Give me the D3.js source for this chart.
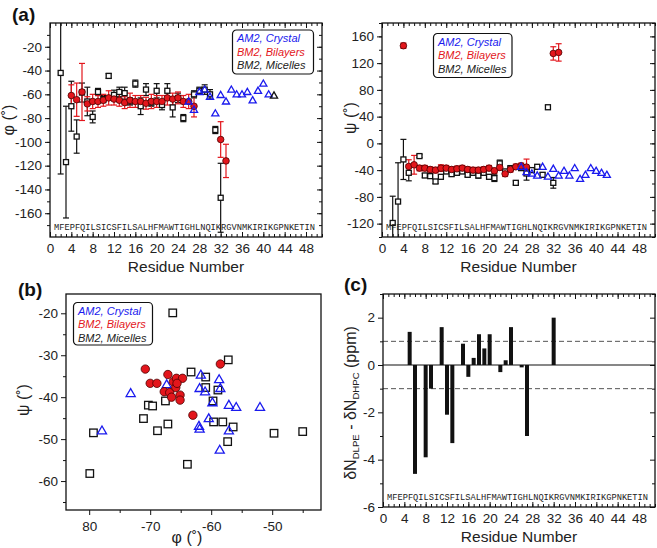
<!DOCTYPE html>
<html><head><meta charset="utf-8">
<script src="https://cdn.jsdelivr.net/npm/d3@7"></script>
<style>
body{margin:0;background:#fff;}
svg{font-family:"Liberation Sans",Arial,Helvetica,sans-serif;}
</style></head><body>
<svg id="chart" width="657" height="548"></svg>
<script>
// ---------------- data ----------------
const sequence = "MFEPFQILSICSFILSALHFMAWTIGHLNQIKRGVNMKIRIKGPNKETIN";
const legendLabels = ["AM2, Crystal", "BM2, Bilayers", "BM2, Micelles"];
const residueTicks = [0,4,8,12,16,20,24,28,32,36,40,44,48];
const phiTicks = [-20,-40,-60,-80,-100,-120,-140,-160];
const psiTicks = [160,120,80,40,0,-40,-80,-120];

// (a) phi, micelles
const phiMicRes = [2,3,4,5,6,7,8,9,10,11,12,13,14,15,16,17,18,19,20,21,22,23,24,25,27,28,29,30,31,32];
const phiMicVal = [-42,-117,-70,-95.5,-58.5,-66,-79,-58,-64,-44.5,-60.5,-58,-59,-66,-51,-70,-56,-67,-57,-69,-57,-71,-63,-80,-60,-57,-56,-60,-90,-147];
const phiMicErr = [85,47,21,14,8,12,5,3,3,2,4,4,5,3,3,7,5,3,6,4,6,8,4,3,3,3,4,4,3,29];
// (a) phi, bilayers
const phiBilRes = [4,5,6,7,8,9,10,11,12,13,14,15,16,17,18,19,20,21,22,23,24,25,26,27,32,33];
const phiBilVal = [-61,-64.5,-58,-68,-66,-66,-65,-63,-64,-65,-67,-65,-66,-66,-67.5,-66,-66,-66,-63,-64,-63,-66,-66,-70,-98,-116];
const phiBilErr = [9,14,24,6,6,5,5,6,5,5,5,6,5,5,5,6,5,5,6,5,5,5,6,9,15,14];
// (a) phi, crystal
const phiCrysRes = [26,27,28,29,30,31,32,33,34,35,36,37,38,39,40,41];
const phiCrysVal = [-66,-73,-58,-56,-62,-76,-60.5,-66,-56,-60,-60,-58,-65,-57,-51,-60];
const phiCrysDarkRes = [42];
const phiCrysDarkVal = [-61];

// (a) psi, micelles
const psiMicRes = [2,3,4,5,7,8,9,10,11,12,13,14,15,16,17,18,19,20,21,22,23,24,25,26,27,28,29,30,31,32];
const psiMicVal = [-119,-87,-24,-44,-19,-48,-49,-57,-50,-42,-46,-44,-42,-47,-44,-48,-44,-50,-52,-30,-42,-37,-59,-37,-45,-40,-35,-47,54,-59];
const psiMicErr = [40,58,30,12,2,3,3,3,3,3,3,3,3,3,3,4,3,3,5,5,3,3,3,3,10,3,3,3,3,8];
// (a) psi, bilayers
const psiBilRes = [4,5,6,7,8,9,10,11,12,13,14,15,16,17,18,19,20,21,22,23,24,25,26,27,32,33];
const psiBilVal = [146,-34.5,-32,-37,-37,-39,-40,-37,-37,-39,-38,-37,-39,-40,-40,-39,-37,-41,-36,-45.5,-39,-35,-33.5,-35.5,134.5,136];
const psiBilErr = [4,10,14,4,4,4,4,5,4,4,4,4,4,4,4,4,4,4,4,4,4,4,4,12,10,13];
// (a) psi, crystal
const psiCrysRes = [26,27,28,29,30,31,32,33,34,35,36,37,38,39,40,41,42];
const psiCrysVal = [-35,-43,-45,-48,-35,-49.5,-38,-48,-41,-48,-37,-53,-47,-37,-41,-44,-47];

// (b) psi vs phi
const bTicksX = [-80,-70,-60,-50];
const bTickLabelsX = ["80","-70","-60","-50"];
const bTicksY = [-20,-30,-40,-50,-60];
const bMicPhi = [-66.3,-57.2,-63.3,-60.9,-58.9,-60.9,-59.7,-67.5,-70.3,-69.6,-71.1,-67.1,-68.8,-59.6,-58.1,-56.4,-57.3,-79.3,-79.9,-63.9,-49.7,-45];
const bMicPsi = [-19.9,-31.1,-34,-35.2,-38.3,-37.7,-40.9,-40.9,-41.9,-42.1,-45.1,-46.4,-48,-45.9,-45.9,-47.1,-50.6,-48.5,-58.2,-56,-48.6,-48.2];
const bCrysPhi = [-73.2,-77.9,-67.3,-61.7,-61.9,-61,-58.7,-58.5,-59.8,-57.1,-55.9,-52,-60.4,-62,-61.9,-57.1,-58.6];
const bCrysPsi = [-39.1,-48,-37,-34.7,-37.9,-38.7,-35.8,-37.9,-41.3,-41.9,-42.4,-42.4,-45.1,-46.9,-47.6,-48,-52.6];
const bBilPhi = [-70.8,-70,-68.9,-67.1,-67.7,-66.8,-66.2,-65.8,-65.7,-64.7,-65.1,-65.1,-65.6,-58.5,-63,-66.5];
const bBilPsi = [-33.3,-36.7,-36.7,-34.6,-38.7,-38.9,-36.3,-37.7,-35.5,-35.5,-39.5,-40.7,-36.7,-32.1,-44.3,-40];

// (c) chemical shift difference
const cTicksY = [2,0,-2,-4,-6];
const cRes = [5,6,8,9,11,12,13,15,16,17,18,19,20,22,23,24,26,27,32];
const cVal = [1.4,-4.6,-3.9,-1.0,1.6,-2.1,-3.3,0.9,-0.5,0.3,1.3,0.7,1.3,-0.3,0.2,1.6,-0.1,-3.0,2.0];
const cRefLines = [1,-1];

// ---------------- drawing ----------------
const svg = d3.select("#chart");
const BLUE = "#1a1aee", RED = "#e3161c", REDSTROKE = "#4a0000", BLK = "#111";
const TICKFONT = 13.5;
const fmt = d => String(d);

function zip(a, b, c) { return a.map((d, i) => ({r: d, v: b[i], e: c ? c[i] : 0})); }

function styleAxis(sel) {
  sel.select(".domain").remove();
  sel.selectAll("line").attr("stroke", BLK).attr("stroke-width", 1);
  sel.selectAll("text").attr("font-size", TICKFONT).attr("fill", "#222")
     .attr("font-family", "Liberation Sans, Arial, sans-serif");
}

function residuePanel(id, L, T, W, Hh, yDom, yMajor, yMinor) {
  const g = svg.append("g").attr("transform", `translate(${L},${T})`);
  const x = d3.scaleLinear().domain([0, 51]).range([0, W]);
  const y = d3.scaleLinear().domain(yDom).range([Hh, 0]);
  g.append("clipPath").attr("id", id).append("rect").attr("width", W).attr("height", Hh);
  const minorX = d3.range(0, 52, 1);
  g.append("g").attr("transform", `translate(0,${Hh})`)
    .call(d3.axisBottom(x).tickValues(minorX).tickSize(-3).tickFormat("")).call(styleAxis);
  g.append("g").attr("transform", `translate(0,${Hh})`)
    .call(d3.axisBottom(x).tickValues(residueTicks).tickSize(-5).tickPadding(6).tickFormat(fmt)).call(styleAxis);
  g.append("g").call(d3.axisTop(x).tickValues(minorX).tickSize(-3).tickFormat("")).call(styleAxis);
  g.append("g").call(d3.axisTop(x).tickValues(residueTicks).tickSize(-5).tickFormat("")).call(styleAxis);
  g.append("g").call(d3.axisLeft(y).tickValues(yMinor).tickSize(3).tickFormat("")).call(styleAxis);
  g.append("g").call(d3.axisLeft(y).tickValues(yMajor).tickSize(5).tickPadding(3).tickFormat(fmt)).call(styleAxis);
  g.append("g").attr("transform", `translate(${W},0)`)
    .call(d3.axisRight(y).tickValues(yMinor).tickSize(-3).tickFormat("")).call(styleAxis);
  g.append("g").attr("transform", `translate(${W},0)`)
    .call(d3.axisRight(y).tickValues(yMajor).tickSize(-5).tickFormat("")).call(styleAxis);
  const plot = g.append("g").attr("clip-path", `url(#${id})`);
  // sequence
  g.append("text").attr("x", 4).attr("y", Hh - 7)
    .attr("font-family", "Liberation Mono, DejaVu Sans Mono, monospace")
    .attr("font-size", 8.7).attr("fill", "#222")
    .attr("textLength", 261).attr("lengthAdjust", "spacingAndGlyphs")
    .text(sequence);
  g.append("text").attr("x", W / 2).attr("y", Hh + 35).attr("text-anchor", "middle")
    .attr("font-size", 15.5).attr("fill", "#222").text("Residue Number");
  return {g, x, y, plot, W, H: Hh};
}

function errorBars(p, data, color) {
  const sel = p.plot.append("g").attr("stroke", color).attr("stroke-width", 1.2).attr("fill", "none");
  data.filter(d => d.e > 0).forEach(d => {
    const cx = p.x(d.r), y1 = p.y(d.v - d.e), y2 = p.y(d.v + d.e);
    sel.append("line").attr("x1", cx).attr("x2", cx).attr("y1", y1).attr("y2", y2);
    sel.append("line").attr("x1", cx - 3).attr("x2", cx + 3).attr("y1", y1).attr("y2", y1);
    sel.append("line").attr("x1", cx - 3).attr("x2", cx + 3).attr("y1", y2).attr("y2", y2);
  });
}
function squares(layer, pts, s) {
  layer.selectAll(null).data(pts).join("rect")
    .attr("x", d => d[0] - s / 2).attr("y", d => d[1] - s / 2).attr("width", s).attr("height", s)
    .attr("fill", "#fff").attr("stroke", BLK).attr("stroke-width", 1.3);
}
function circles(layer, pts, r) {
  layer.selectAll(null).data(pts).join("circle")
    .attr("cx", d => d[0]).attr("cy", d => d[1]).attr("r", r)
    .attr("fill", RED).attr("stroke", REDSTROKE).attr("stroke-width", 0.8);
}
function triangles(layer, pts, size, color) {
  const sym = d3.symbol().type(d3.symbolTriangle).size(size);
  layer.selectAll(null).data(pts).join("path")
    .attr("transform", d => `translate(${d[0]},${d[1] + 0.5})`).attr("d", sym)
    .attr("fill", "none").attr("stroke", color).attr("stroke-width", 1.3);
}
function legend(L, T, W, Hh, fs) {
  const g = svg.append("g").attr("transform", `translate(${L},${T})`);
  g.append("rect").attr("width", W).attr("height", Hh).attr("rx", 4)
    .attr("fill", "#fff").attr("stroke", BLK).attr("stroke-width", 1.2);
  const cols = [BLUE, RED, "#222"];
  legendLabels.forEach((t, i) => {
    g.append("text").attr("x", 4.5).attr("y", 12 + i * 13.7).attr("font-size", fs)
      .attr("font-style", "italic").attr("fill", cols[i]).text(t);
  });
}
function frame(p) {
  p.g.append("rect").attr("width", p.W).attr("height", p.H).attr("fill", "none")
    .attr("stroke", BLK).attr("stroke-width", 1.3);
}
function yTitle(cx, cy, parts, fs) {
  const t = svg.append("text").attr("transform", `translate(${cx},${cy}) rotate(-90)`)
    .attr("text-anchor", "middle").attr("font-size", fs).attr("fill", "#222");
  parts.forEach(pt => {
    const s = t.append("tspan").text(pt.t);
    if (pt.sub) s.attr("font-size", fs * 0.6).attr("baseline-shift", "-25%");
  });
  return t;
}

// ----- (a) phi -----
const pa = residuePanel("clipA", 50, 23, 272, 214, [-180, 0], phiTicks, d3.range(-170, 0, 10));
{
  const mic = zip(phiMicRes, phiMicVal, phiMicErr);
  const bil = zip(phiBilRes, phiBilVal, phiBilErr);
  errorBars(pa, mic, BLK);
  errorBars(pa, bil, RED);
  squares(pa.plot, mic.map(d => [pa.x(d.r), pa.y(d.v)]), 5);
  circles(pa.plot, bil.map(d => [pa.x(d.r), pa.y(d.v)]), 3.3);
  triangles(pa.plot, zip(phiCrysRes, phiCrysVal).map(d => [pa.x(d.r), pa.y(d.v)]), 22, BLUE);
  triangles(pa.plot, zip(phiCrysDarkRes, phiCrysDarkVal).map(d => [pa.x(d.r), pa.y(d.v)]), 22, BLK);
  frame(pa);
}
legend(232.5, 30, 81, 44, 11);
yTitle(14, 120, [{t: "φ (˚)"}], 16);

// ----- (a) psi -----
const pb = residuePanel("clipB", 382, 23, 273, 214, [-140, 180], psiTicks, d3.range(-140, 181, 20));
{
  const mic = zip(psiMicRes, psiMicVal, psiMicErr);
  const bil = zip(psiBilRes, psiBilVal, psiBilErr);
  errorBars(pb, mic, BLK);
  errorBars(pb, bil, RED);
  squares(pb.plot, mic.map(d => [pb.x(d.r), pb.y(d.v)]), 5);
  circles(pb.plot, bil.map(d => [pb.x(d.r), pb.y(d.v)]), 3.3);
  triangles(pb.plot, zip(psiCrysRes, psiCrysVal).map(d => [pb.x(d.r), pb.y(d.v)]), 22, BLUE);
  frame(pb);
}
legend(433.5, 33.5, 78.5, 44, 11);
yTitle(356, 118, [{t: "ψ (˚)"}], 16);

// ----- (b) -----
{
  const L = 66, T = 294, W = 255, Hh = 216;
  const g = svg.append("g").attr("transform", `translate(${L},${T})`);
  const x = d3.scaleLinear().domain([-83.8, -42]).range([0, W]);
  const y = d3.scaleLinear().domain([-66.9, -15.4]).range([Hh, 0]);
  g.append("g").attr("transform", `translate(0,${Hh})`)
    .call(d3.axisBottom(x).tickValues([-75, -65, -55, -45]).tickSize(3).tickFormat("")).call(styleAxis);
  g.append("g").attr("transform", `translate(0,${Hh})`)
    .call(d3.axisBottom(x).tickValues(bTicksX).tickSize(5).tickPadding(6)
      .tickFormat((d, i) => bTickLabelsX[i])).call(styleAxis);
  g.append("g").call(d3.axisLeft(y).tickValues([-25, -35, -45, -55, -65]).tickSize(3).tickFormat("")).call(styleAxis);
  g.append("g").call(d3.axisLeft(y).tickValues(bTicksY).tickSize(5).tickPadding(3).tickFormat(fmt)).call(styleAxis);
  const layer = g.append("g");
  squares(layer, bMicPhi.map((d, i) => [x(d), y(bMicPsi[i])]), 7.5);
  triangles(layer, bCrysPhi.map((d, i) => [x(d), y(bCrysPsi[i])]), 36, BLUE);
  circles(layer, bBilPhi.map((d, i) => [x(d), y(bBilPsi[i])]), 4.2);
  g.append("rect").attr("width", W).attr("height", Hh).attr("fill", "none")
    .attr("stroke", BLK).attr("stroke-width", 1.3);
  g.append("text").attr("x", 121).attr("y", 249).attr("text-anchor", "middle")
    .attr("font-size", 16).attr("fill", "#222").text("φ (˚)");
}
legend(73.5, 302.5, 79, 42.5, 11);
yTitle(29, 400, [{t: "ψ (˚)"}], 16);

// ----- (c) -----
const pc = residuePanel("clipC", 383, 294, 272, 213, [-6, 3], cTicksY, [3,1,-1,-3,-5]);
{
  pc.plot.selectAll(null).data(cRefLines).join("line")
    .attr("x1", 0).attr("x2", pc.W).attr("y1", d => pc.y(d)).attr("y2", d => pc.y(d))
    .attr("stroke", "#555").attr("stroke-width", 1).attr("stroke-dasharray", "5,3");
  pc.plot.append("line").attr("x1", 0).attr("x2", pc.W).attr("y1", pc.y(0)).attr("y2", pc.y(0))
    .attr("stroke", BLK).attr("stroke-width", 1.2);
  pc.plot.selectAll(null).data(cRes.map((r, i) => ({r, v: cVal[i]}))).join("rect")
    .attr("x", d => pc.x(d.r) - 2).attr("width", 4)
    .attr("y", d => pc.y(Math.max(0, d.v))).attr("height", d => Math.abs(pc.y(d.v) - pc.y(0)))
    .attr("fill", BLK);
  frame(pc);
}
yTitle(356, 403, [{t: "δN"}, {t: "DLPE", sub: true}, {t: " - δN"}, {t: "DHPC", sub: true}, {t: " (ppm)"}], 16);

// panel labels
[["(a)", 12, 21], ["(b)", 18, 296], ["(c)", 344, 291]].forEach(([t, x, y]) => {
  svg.append("text").attr("x", x).attr("y", y).attr("font-size", 19).attr("font-weight", "bold")
    .attr("fill", "#111").text(t);
});
</script>
</body></html>
